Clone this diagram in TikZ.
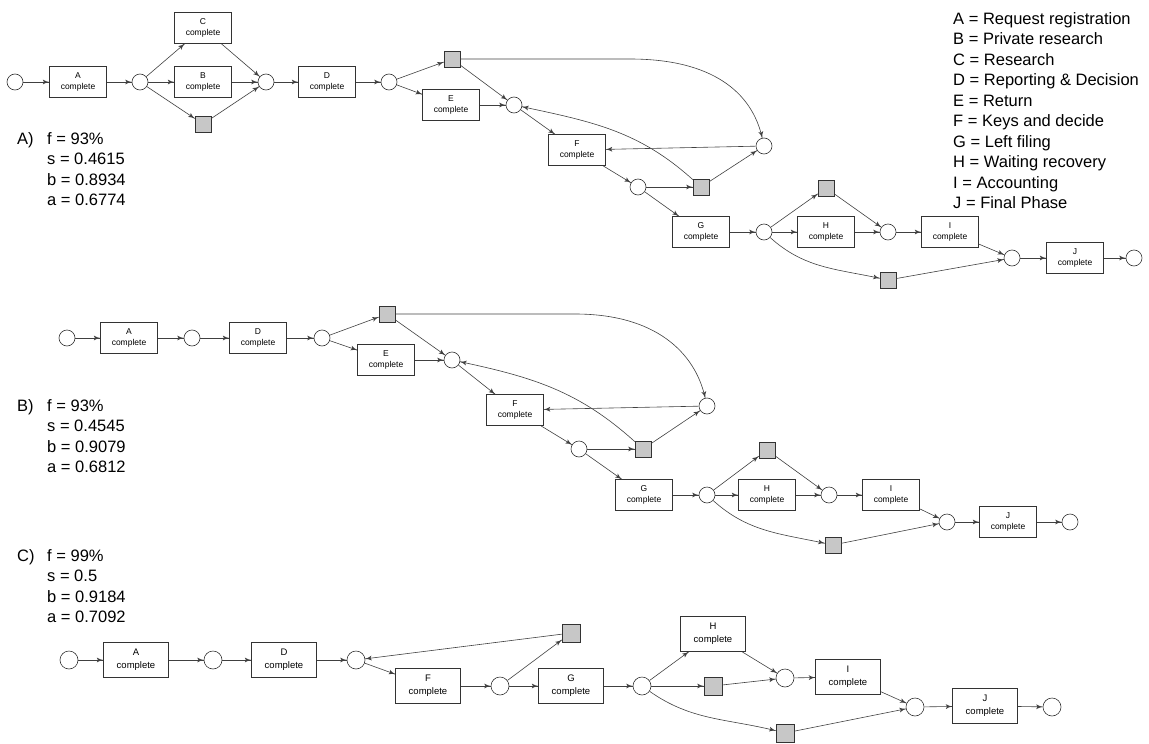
\documentclass[tikz,border=0pt]{standalone}
\usepackage{fontspec}
\setmainfont{Liberation Sans}
\usetikzlibrary{arrows}
\usetikzlibrary{decorations.markings}
\tikzset{arc/.style = {draw=black!75, line width=0.6pt,
                       decoration={markings,
                                   mark=at position 1 with {\arrow[scale=1.4]{latex'}}},
                       postaction={decorate}}}
\tikzset{place/.style = {circle, draw=black!80, line width=0.6pt, minimum size=16pt, inner sep=0pt}}
\tikzset{trans/.style = {rectangle, draw=black!80, line width=0.6pt, minimum width=57pt,
                         minimum height=31pt, inner sep=0pt, align=center,
                         font=\fontsize{8.5}{11.5}\selectfont}}
\tikzset{silent/.style = {rectangle, draw=black!80, line width=0.6pt, fill=black!22,
                          minimum size=16pt, inner sep=0pt}}
\tikzset{bigplace/.style = {place, minimum size=18pt}}
\tikzset{bigtrans/.style = {trans, minimum width=65pt, minimum height=35pt,
                            font=\fontsize{9.5}{13}\selectfont}}
\tikzset{bigsilent/.style = {silent, minimum size=18pt}}
\tikzset{stats/.style = {anchor=north west, inner sep=0pt, align=left,
                         font=\fontsize{16.5}{20.5}\selectfont}}

\begin{document}
\begin{tikzpicture}[x=1pt, y=-1pt]
      \useasboundingbox (0,0) rectangle (1149,744);
      \node[stats] (key) at (953,12) {A = Request registration\\B = Private research\\C = Research\\D = Reporting \& Decision\\E = Return\\F = Keys and decide\\G = Left filing\\H = Waiting recovery\\I = Accounting\\J = Final Phase};
      \node[stats] (tagA) at (17,132) {A)};
      \node[stats] (valA) at (47,132) {f = 93\%\\s = 0.4615\\b = 0.8934\\a = 0.6774};
      \node[stats] (tagB) at (17,399) {B)};
      \node[stats] (valB) at (47,399) {f = 93\%\\s = 0.4545\\b = 0.9079\\a = 0.6812};
      \node[stats] (tagC) at (17,549) {C)};
      \node[stats] (valC) at (47,549) {f = 99\%\\s = 0.5\\b = 0.9184\\a = 0.7092};

      \node[place] (a0) at (15,82) {};
      \node[trans] (aA) at (78,82) {A\\complete};
      \node[place] (a1) at (140,82) {};
      \node[trans] (aC) at (203,28) {C\\complete};
      \node[trans] (aB) at (203,82) {B\\complete};
      \node[silent] (at1) at (203,124) {};
      \node[place] (a2) at (266,82) {};
      \node[trans] (aD) at (327,82) {D\\complete};
      \node[place] (a3) at (389,82) {};
      \node[silent] (at2) at (452,59) {};
      \node[trans] (aE) at (451,105) {E\\complete};
      \node[place] (a4) at (514,105) {};
      \node[trans] (aF) at (577,150) {F\\complete};
      \node[place] (a6) at (764,146) {};
      \node[place] (a5) at (638,187) {};
      \node[silent] (at3) at (701,187) {};
      \node[trans] (aG) at (701,232) {G\\complete};
      \node[place] (a7) at (764,232) {};
      \node[silent] (at4) at (826,188) {};
      \node[trans] (aH) at (826,232) {H\\complete};
      \node[place] (a8) at (888,232) {};
      \node[trans] (aI) at (950,232) {I\\complete};
      \node[silent] (at5) at (888,280) {};
      \node[place] (a9) at (1012,258) {};
      \node[trans] (aJ) at (1075,258) {J\\complete};
      \node[place] (a10) at (1134,258) {};
      \coordinate (abend) at (630,59);
      \draw[arc] (a0) -- (aA);
      \draw[arc] (aA) -- (a1);
      \draw[arc] (a1) -- (aC);
      \draw[arc] (a1) -- (aB);
      \draw[arc] (a1) -- (at1);
      \draw[arc] (aC) -- (a2);
      \draw[arc] (aB) -- (a2);
      \draw[arc] (at1) -- (a2);
      \draw[arc] (a2) -- (aD);
      \draw[arc] (aD) -- (a3);
      \draw[arc] (a3) -- (at2);
      \draw[arc] (a3) -- (aE);
      \draw[arc] (at2) -- (a4);
      \draw[arc] (aE) -- (a4);
      \draw[arc] (at2) -- (abend) .. controls (712,59) and (752,92) .. (a6);
      \draw[arc] (a4) -- (aF);
      \draw[arc] (a6) -- (aF);
      \draw[arc] (aF) -- (a5);
      \draw[arc] (a5) -- (at3);
      \draw[arc] (at3) to[out=138, in=-12] (a4);
      \draw[arc] (at3) -- (a6);
      \draw[arc] (a5) -- (aG);
      \draw[arc] (aG) -- (a7);
      \draw[arc] (a7) -- (at4);
      \draw[arc] (a7) -- (aH);
      \draw[arc] (a7) to[out=-42, in=168] (at5);
      \draw[arc] (at4) -- (a8);
      \draw[arc] (aH) -- (a8);
      \draw[arc] (a8) -- (aI);
      \draw[arc] (aI) -- (a9);
      \draw[arc] (at5) -- (a9);
      \draw[arc] (a9) -- (aJ);
      \draw[arc] (aJ) -- (a10);

      \node[place] (b0) at (67,338) {};
      \node[trans] (bA) at (129,338) {A\\complete};
      \node[place] (b1) at (192,338) {};
      \node[trans] (bD) at (258,338) {D\\complete};
      \node[place] (b2) at (322,338) {};
      \node[silent] (bt1) at (387,314) {};
      \node[trans] (bE) at (386,360) {E\\complete};
      \node[place] (b3) at (452,360) {};
      \node[trans] (bF) at (515,410) {F\\complete};
      \node[place] (b5) at (707,406) {};
      \node[place] (b4) at (579,449) {};
      \node[silent] (bt2) at (643,449) {};
      \node[trans] (bG) at (644,495) {G\\complete};
      \node[place] (b6) at (707,495) {};
      \node[silent] (bt3) at (767,450) {};
      \node[trans] (bH) at (767,495) {H\\complete};
      \node[place] (b7) at (829,495) {};
      \node[trans] (bI) at (891,495) {I\\complete};
      \node[silent] (bt4) at (833,545) {};
      \node[place] (b8) at (947,522) {};
      \node[trans] (bJ) at (1008,522) {J\\complete};
      \node[place] (b9) at (1070,522) {};
      \coordinate (bbend) at (575,314);
      \draw[arc] (b0) -- (bA);
      \draw[arc] (bA) -- (b1);
      \draw[arc] (b1) -- (bD);
      \draw[arc] (bD) -- (b2);
      \draw[arc] (b2) -- (bt1);
      \draw[arc] (b2) -- (bE);
      \draw[arc] (bt1) -- (b3);
      \draw[arc] (bE) -- (b3);
      \draw[arc] (bt1) -- (bbend) .. controls (655,314) and (695,352) .. (b5);
      \draw[arc] (b3) -- (bF);
      \draw[arc] (b5) -- (bF);
      \draw[arc] (bF) -- (b4);
      \draw[arc] (b4) -- (bt2);
      \draw[arc] (bt2) to[out=138, in=-12] (b3);
      \draw[arc] (bt2) -- (b5);
      \draw[arc] (b4) -- (bG);
      \draw[arc] (bG) -- (b6);
      \draw[arc] (b6) -- (bt3);
      \draw[arc] (b6) -- (bH);
      \draw[arc] (b6) to[out=-42, in=168] (bt4);
      \draw[arc] (bt3) -- (b7);
      \draw[arc] (bH) -- (b7);
      \draw[arc] (b7) -- (bI);
      \draw[arc] (bI) -- (b8);
      \draw[arc] (bt4) -- (b8);
      \draw[arc] (b8) -- (bJ);
      \draw[arc] (bJ) -- (b9);

      \node[bigplace] (c0) at (69,660) {};
      \node[bigtrans] (cA) at (136,660) {A\\complete};
      \node[bigplace] (c1) at (213,660) {};
      \node[bigtrans] (cD) at (284,660) {D\\complete};
      \node[bigplace] (c2) at (356,660) {};
      \node[bigtrans] (cF) at (428,686) {F\\complete};
      \node[bigplace] (c3) at (500,686) {};
      \node[bigsilent] (ct1) at (571,633) {};
      \node[bigtrans] (cG) at (571,686) {G\\complete};
      \node[bigplace] (c4) at (642,686) {};
      \node[bigtrans] (cH) at (713,634) {H\\complete};
      \node[bigsilent] (ct2) at (713,686) {};
      \node[bigsilent] (ct3) at (785,733) {};
      \node[bigplace] (c5) at (785,678) {};
      \node[bigtrans] (cI) at (848,677) {I\\complete};
      \node[bigplace] (c6) at (915,707) {};
      \node[bigtrans] (cJ) at (985,706) {J\\complete};
      \node[bigplace] (c7) at (1052,707) {};
      \draw[arc] (c0) -- (cA);
      \draw[arc] (cA) -- (c1);
      \draw[arc] (c1) -- (cD);
      \draw[arc] (cD) -- (c2);
      \draw[arc] (c2) -- (cF);
      \draw[arc] (cF) -- (c3);
      \draw[arc] (c3) -- (ct1);
      \draw[arc] (ct1) -- (c2);
      \draw[arc] (c3) -- (cG);
      \draw[arc] (cG) -- (c4);
      \draw[arc] (c4) -- (cH);
      \draw[arc] (c4) -- (ct2);
      \draw[arc] (c4) to[out=-35, in=166] (ct3);
      \draw[arc] (cH) -- (c5);
      \draw[arc] (ct2) -- (c5);
      \draw[arc] (c5) -- (cI);
      \draw[arc] (cI) -- (c6);
      \draw[arc] (ct3) -- (c6);
      \draw[arc] (c6) -- (cJ);
      \draw[arc] (cJ) -- (c7);
    \end{tikzpicture}
\end{document}
